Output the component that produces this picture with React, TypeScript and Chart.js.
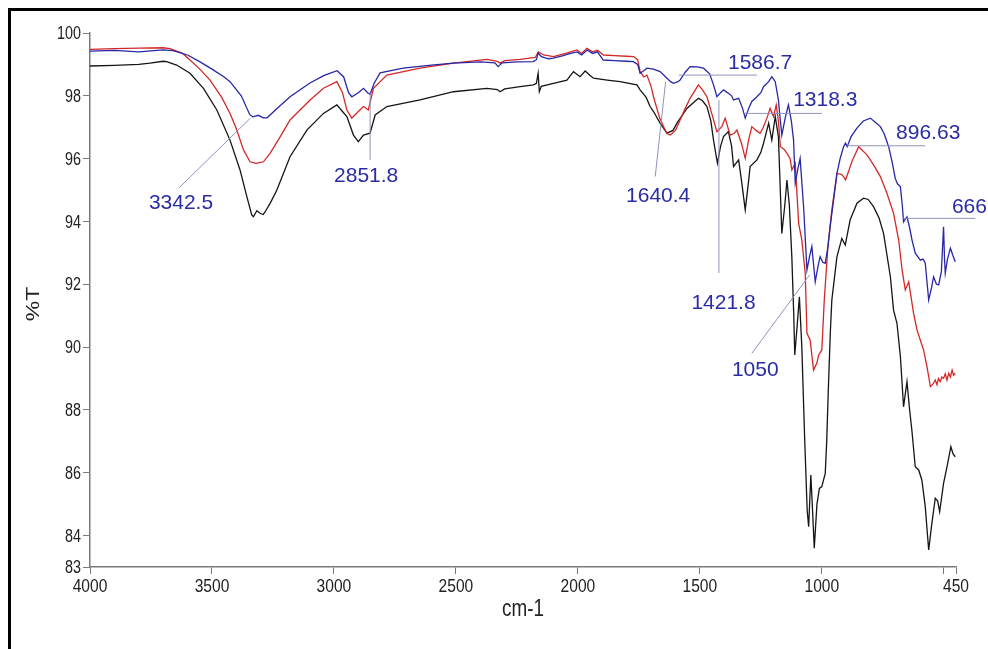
import React, { useEffect, useRef } from 'react';
import { Chart, registerables } from 'chart.js';

Chart.register(...registerables);

// FTIR transmittance spectra (wavenumber in cm-1, transmittance in %T)
const blueWavenumbers = [
  4000, 3900, 3800, 3700, 3660, 3600, 3549, 3500, 3450, 3426, 3380, 3345, 3332, 3310, 3290, 3274, 3240, 3180,
  3100, 3040, 2987, 2960, 2940, 2927, 2900, 2879, 2862, 2852, 2835, 2811, 2716, 2600, 2511, 2400, 2340, 2327,
  2310, 2250, 2183, 2170, 2163, 2150, 2120, 2101, 2060, 2030, 2003, 1985, 1962, 1940, 1920, 1896, 1850, 1800,
  1773, 1755, 1745, 1730, 1717, 1690, 1663, 1640, 1620, 1608, 1590, 1581, 1560, 1540, 1510, 1485, 1460, 1444,
  1430, 1415, 1403, 1383, 1370, 1362, 1341, 1325, 1314, 1300, 1287, 1266, 1250, 1239, 1218, 1205, 1191, 1178,
  1170, 1164, 1150, 1137, 1125, 1116, 1109, 1100, 1089, 1075, 1061, 1050, 1041, 1027, 1015, 1007, 996, 986, 975,
  966, 950, 938, 925, 911, 903, 896, 880, 856, 830, 801, 780, 760, 745, 726, 712, 699, 690, 678, 670, 665, 651,
  640, 630, 617, 596, 585, 576, 568, 562, 550, 542, 530, 521, 510, 501, 497, 494, 485, 473, 462, 453,
];
const blueTransmittance = [
  99.42, 99.45, 99.4, 99.46, 99.44, 99.3, 99.08, 98.85, 98.6, 98.45, 98.0, 97.4, 97.33, 97.38, 97.3, 97.3, 97.55, 97.97,
  98.4, 98.65, 98.8, 98.6, 98.1, 97.97, 98.1, 98.24, 98.1, 98.05, 98.4, 98.73, 98.88, 98.98, 99.04, 99.08, 99.05, 98.93,
  99.05, 99.08, 99.09, 99.15, 99.36, 99.25, 99.18, 99.2, 99.28, 99.35, 99.4, 99.3, 99.46, 99.35, 99.4, 99.14, 99.12, 99.1,
  99.09, 99.0, 98.72, 98.8, 98.88, 98.85, 98.77, 98.6, 98.45, 98.4, 98.45, 98.5, 98.75, 98.93, 98.92, 98.88, 98.7, 98.35,
  97.97, 98.1, 98.19, 98.08, 98.0, 97.87, 97.92, 97.6, 97.29, 97.6, 97.82, 97.97, 98.1, 98.29, 98.45, 98.61, 98.45, 97.87,
  97.2, 96.75, 97.3, 97.71, 97.2, 96.6, 95.22, 95.6, 96.01, 94.5, 92.46, 92.9, 93.2, 92.08, 92.6, 92.88, 92.7, 92.67, 93.2,
  93.83, 94.8, 95.53, 96.0, 96.38, 96.49, 96.38, 96.7, 96.97, 97.2, 97.29, 97.15, 97.02, 96.8, 96.38, 95.9, 95.37, 95.2, 95.11, 94.5, 93.99, 94.15,
  93.8, 93.4, 92.99, 92.77, 92.8, 92.67, 92.0, 91.5, 91.9, 92.24, 92.0, 91.98, 92.4, 93.83, 92.8, 92.35, 92.8, 93.15, 92.9, 92.72,
];

const redWavenumbers = [
  4000, 3900, 3800, 3700, 3672, 3620, 3590, 3550, 3508, 3460, 3426, 3400, 3371, 3344, 3320, 3300, 3289, 3262, 3220,
  3180, 3100, 3043, 2988, 2965, 2947, 2927, 2900, 2879, 2859, 2838, 2783, 2647, 2510, 2373, 2330, 2319, 2300, 2237,
  2175, 2162, 2140, 2100, 2050, 2004, 1985, 1963, 1940, 1920, 1895, 1850, 1800, 1772, 1755, 1745, 1730, 1717, 1700,
  1690, 1665, 1649, 1635, 1622, 1600, 1581, 1560, 1540, 1506, 1490, 1471, 1450, 1430, 1410, 1396, 1376, 1360, 1348,
  1330, 1314, 1300, 1287, 1270, 1253, 1240, 1225, 1212, 1198, 1187, 1178, 1170, 1155, 1143, 1130, 1123, 1109, 1095,
  1082, 1068, 1061, 1048, 1034, 1020, 1013, 1000, 990, 975, 959, 938, 920, 911, 903, 890, 877, 849, 815, 788, 760,
  733, 706, 685, 671, 658, 644, 624, 610, 583, 569, 555, 548, 542, 535, 528, 522, 515, 508, 501, 494, 487, 480, 473,
  466, 460, 453,
];
const redTransmittance = [
  99.48, 99.5, 99.52, 99.53, 99.5, 99.35, 99.14, 98.85, 98.5, 97.95, 97.44, 96.95, 96.28, 95.9, 95.85, 95.88, 95.9, 96.17, 96.7,
  97.23, 97.85, 98.24, 98.45, 98.1, 97.55, 97.29, 97.5, 97.66, 97.55, 98.24, 98.66, 98.88, 99.04, 99.16, 99.1, 99.04, 99.12, 99.16,
  99.22, 99.4, 99.3, 99.25, 99.35, 99.46, 99.35, 99.51, 99.4, 99.45, 99.3, 99.28, 99.26, 99.25, 99.15, 98.77, 98.6, 98.66, 98.3,
  97.97, 97.3, 97.02, 96.8, 96.75, 96.9, 97.23, 97.6, 97.92, 98.35, 98.2, 97.97, 97.4, 96.86, 97.02, 97.29, 96.75, 96.8, 96.91,
  96.5, 96.01, 96.6, 97.02, 96.9, 96.81, 97.0, 97.29, 97.6, 97.34, 97.71, 97.2, 96.38, 96.3, 96.17, 96.0, 95.64, 95.85, 93.94,
  93.41, 92.35, 90.44, 90.23, 89.27, 89.5, 89.75, 89.91, 91.5, 93.2, 94.37, 95.53, 95.5, 95.43, 95.32, 95.6, 95.9, 96.38, 96.12, 95.8, 95.43,
  94.9, 94.26, 93.41, 92.46, 91.82, 92.08, 91.08, 90.55, 89.91, 89.38, 88.74, 88.8, 88.85, 88.95, 88.8, 89.0, 88.9, 89.05, 89.01, 89.15, 88.95, 89.17, 89.05,
  89.27, 89.1, 89.17,
];

const blackWavenumbers = [
  4000, 3900, 3800, 3754, 3700, 3686, 3645, 3590, 3535, 3480, 3426, 3385, 3357, 3337, 3330, 3316, 3303, 3290, 3282,
  3260, 3234, 3180, 3111, 3043, 2988, 2965, 2947, 2920, 2900, 2879, 2852, 2831, 2783, 2647, 2510, 2373, 2330, 2319,
  2300, 2237, 2182, 2170, 2163, 2158, 2150, 2100, 2045, 2018, 1991, 1970, 1950, 1936, 1880, 1827, 1758, 1745, 1720,
  1704, 1690, 1663, 1635, 1610, 1594, 1553, 1506, 1490, 1471, 1455, 1444, 1428, 1415, 1403, 1383, 1370, 1362, 1341,
  1328, 1314, 1300, 1294, 1266, 1250, 1239, 1218, 1205, 1191, 1178, 1164, 1152, 1143, 1133, 1123, 1115, 1111, 1103,
  1092, 1082, 1070, 1060, 1054, 1045, 1038, 1031, 1020, 1010, 1000, 986, 980, 973, 965, 959, 938, 918, 904, 884, 856,
  829, 810, 788, 765, 747, 719, 706, 692, 678, 665, 651, 640, 631, 617, 603, 590, 576, 562, 549, 535, 525, 517, 501,
  487, 471, 462, 453,
];
const blackTransmittance = [
  98.95, 98.97, 99.0, 99.04, 99.1, 99.09, 98.98, 98.72, 98.24, 97.55, 96.59, 95.64, 94.79, 94.21, 94.15, 94.34, 94.26, 94.22, 94.31,
  94.6, 95.0, 96.06, 96.91, 97.44, 97.71, 97.5, 97.34, 96.75, 96.54, 96.75, 96.81, 97.39, 97.66, 97.87, 98.13, 98.24, 98.2, 98.13,
  98.22, 98.29, 98.35, 98.4, 98.72, 98.13, 98.3, 98.4, 98.5, 98.77, 98.61, 98.79, 98.65, 98.56, 98.5, 98.45, 98.35, 98.19, 97.95,
  97.66, 97.5, 97.13, 96.81, 96.9, 97.13, 97.6, 97.92, 97.85, 97.66, 97.2, 96.59, 95.85, 96.4, 96.7, 96.86, 96.4, 95.75, 95.96,
  95.22, 94.37, 95.3, 95.75, 95.96, 96.2, 96.49, 97.13, 96.59, 97.34, 96.7, 93.62, 94.5, 95.32, 94.5, 92.88, 91.0, 89.75, 90.5,
  91.6, 90.0, 87.0, 84.8, 84.28, 85.93, 84.8, 83.6, 85.0, 85.5, 85.56, 85.98, 87.0, 88.74, 90.5, 91.5, 92.88, 93.46, 93.25, 94.05, 94.58,
  94.74, 94.7, 94.47, 94.1, 93.62, 92.24, 91.18, 90.76, 89.7, 88.1, 88.9, 88.0, 87.36, 86.19, 86.09, 85.77, 84.92, 83.54, 84.39, 85.19, 85.1, 84.76, 85.66,
  86.19, 86.83, 86.6, 86.51,
];

const xTickValues = [4000, 3500, 3000, 2500, 2000, 1500, 1000, 500, 450];
const xTickLabels = ['4000', '3500', '3000', '2500', '2000', '1500', '1000', '', '450'];
const yTickValues = [83, 84, 86, 88, 90, 92, 94, 96, 98, 100];
const xAxisTitle = 'cm-1';
const yAxisTitle = '%T';

// Peak labels; each leader starts at the labelled wavenumber on the curve
const peakLabels = ['3342.5', '2851.8', '1640.4', '1586.7', '1421.8', '1318.3', '1050', '896.63', '666'];
const peakAnchorT = [97.29, 98.09, 98.45, 98.66, 97.87, 97.44, 92.3, 96.41, 94.1];
const leaderEndWavenumber = [3635, 2851.8, 1683, 1266, 1421.8, 1000, 1287, 576, 371];
const leaderEndT = [95.07, 95.96, 95.43, 98.66, 92.36, 97.44, 89.8, 96.41, 94.1];
const labelWavenumber = [3627, 2868, 1671, 1253, 1403, 986, 1273, 564, 395];
const labelT = [94.59, 95.43, 94.79, 99.04, 91.4, 97.87, 89.27, 96.81, 94.47];

const toPoints = (xs: number[], ys: number[]) => xs.map((x, i) => ({ x, y: ys[i] }));

const plainFont = '"Liberation Sans", Arial, sans-serif';
const AXIS_TEXT = '#222';
const SQUEEZE = 0.82;

// Axis text is set in a condensed face: draw it horizontally scaled
function drawCondensed(ctx: CanvasRenderingContext2D, text: string, x: number, y: number, size: number, align: CanvasTextAlign, rotate = 0) {
  ctx.save();
  ctx.translate(x, y);
  if (rotate) ctx.rotate(rotate);
  if (rotate) ctx.scale(1, SQUEEZE);
  else ctx.scale(SQUEEZE, 1);
  ctx.font = `${size}px ${plainFont}`;
  ctx.fillStyle = AXIS_TEXT;
  ctx.textAlign = align;
  ctx.textBaseline = 'alphabetic';
  ctx.fillText(text, 0, 0);
  ctx.restore();
}

const axisTextPlugin = {
  id: 'axisText',
  afterDraw(chart: any) {
    const { ctx, chartArea } = chart;
    const xs = chart.scales.x;
    const ys = chart.scales.y;
    xTickValues.forEach((v, i) => {
      if (!xTickLabels[i]) return;
      drawCondensed(ctx, xTickLabels[i], xs.getPixelForValue(v), chartArea.bottom + 24.5, 19, 'center');
    });
    yTickValues.forEach((v) => {
      drawCondensed(ctx, String(v), chartArea.left - 9, ys.getPixelForValue(v) + 6.2, 17.5, 'right');
    });
    drawCondensed(ctx, xAxisTitle, (chartArea.left + chartArea.right) / 2, chartArea.bottom + 48.5, 23, 'center');
    // rotated y title, reading upward; baseline to the right of the glyphs
    drawCondensed(ctx, yAxisTitle, 39, (chartArea.top + chartArea.bottom) / 2 + 4, 23, 'center', -Math.PI / 2);
  },
};

const peakLabelPlugin = {
  id: 'peakLabels',
  afterDatasetsDraw(chart: any) {
    const { ctx } = chart;
    const xs = chart.scales.x;
    const ys = chart.scales.y;
    ctx.save();
    peakLabels.forEach((label, i) => {
      const ax = xs.getPixelForValue(parseFloat(label));
      const ay = ys.getPixelForValue(peakAnchorT[i]);
      const ex = xs.getPixelForValue(leaderEndWavenumber[i]);
      const ey = ys.getPixelForValue(leaderEndT[i]);
      ctx.strokeStyle = '#8f93bf';
      ctx.lineWidth = 1;
      ctx.beginPath();
      ctx.moveTo(ax, ay);
      ctx.lineTo(ex, ey);
      ctx.stroke();
      ctx.fillStyle = '#2a2ca4';
      ctx.font = `21px ${plainFont}`;
      ctx.textAlign = 'center';
      ctx.textBaseline = 'middle';
      ctx.fillText(label, xs.getPixelForValue(labelWavenumber[i]), ys.getPixelForValue(labelT[i]));
    });
    ctx.restore();
  },
};

export default function App() {
  const canvasRef = useRef<HTMLCanvasElement | null>(null);

  useEffect(() => {
    if (!canvasRef.current) return;
    const lineStyle = { pointRadius: 0, borderWidth: 1.3, tension: 0, fill: false };
    const axisGrid = { display: true, drawOnChartArea: false, drawTicks: true, tickLength: 7, color: '#7a7a7a', lineWidth: 1 };
    const chart = new Chart(canvasRef.current, {
      type: 'line',
      data: {
        datasets: [
          { label: 'blue', data: toPoints(blueWavenumbers, blueTransmittance), borderColor: '#2727a8', ...lineStyle },
          { label: 'red', data: toPoints(redWavenumbers, redTransmittance), borderColor: '#d42828', ...lineStyle },
          { label: 'black', data: toPoints(blackWavenumbers, blackTransmittance), borderColor: '#151515', ...lineStyle },
        ],
      },
      options: {
        animation: false,
        responsive: false,
        devicePixelRatio: 1,
        layout: { padding: { top: 33, right: 32, left: 0, bottom: 0 } },
        plugins: { legend: { display: false }, tooltip: { enabled: false } },
        scales: {
          x: {
            type: 'linear',
            reverse: true,
            min: 450,
            max: 4000,
            afterBuildTicks: (scale: any) => {
              scale.ticks = xTickValues.map((value) => ({ value }));
            },
            afterFit: (scale: any) => {
              scale.height = 82;
            },
            ticks: { display: false, autoSkip: false },
            grid: axisGrid,
            border: { display: true, color: '#7a7a7a', width: 1.5 },
          },
          y: {
            type: 'linear',
            min: 83,
            max: 100,
            afterBuildTicks: (scale: any) => {
              scale.ticks = yTickValues.map((value) => ({ value }));
            },
            afterFit: (scale: any) => {
              scale.width = 90;
            },
            ticks: { display: false, autoSkip: false },
            grid: axisGrid,
            border: { display: true, color: '#7a7a7a', width: 1.5 },
          },
        },
      },
      plugins: [peakLabelPlugin, axisTextPlugin],
    } as any);
    return () => chart.destroy();
  }, []);

  return (
    <div style={{ position: 'fixed', left: 0, top: 0, width: 988, height: 649, background: '#fff', overflow: 'hidden' }}>
      <div
        style={{
          position: 'absolute',
          left: 8,
          top: 8,
          width: 980,
          height: 641,
          borderTop: '3px solid #000',
          borderLeft: '3px solid #000',
          boxSizing: 'border-box',
        }}
      />
      <canvas
        ref={canvasRef}
        width={988}
        height={649}
        style={{ position: 'absolute', left: 0, top: 0, width: 988, height: 649 }}
      />
    </div>
  );
}
